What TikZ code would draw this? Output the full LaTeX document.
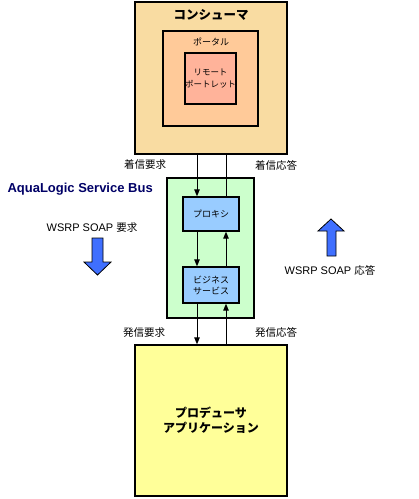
\documentclass[tikz,border=0pt]{standalone}
\usepackage{fontspec}
\setmainfont{Liberation Sans}
\newfontfamily\jp{Noto Sans CJK JP}
\usetikzlibrary{arrows.meta, positioning, calc}
\definecolor{conFill}{HTML}{F9DCA2}
\definecolor{portalFill}{HTML}{FFCA99}
\definecolor{portletFill}{HTML}{FFB39A}
\definecolor{busFill}{HTML}{CCFFCC}
\definecolor{proxyFill}{HTML}{99CCFF}
\definecolor{prodFill}{HTML}{FFFF99}
\definecolor{soapBlue}{HTML}{3F6FFF}
\definecolor{busText}{HTML}{000066}
\tikzset{
  box/.style       = {draw=black, line width=1.3pt, inner sep=0pt},
  flow/.style      = {line width=1pt, black},
  tip/.style       = {-{Triangle[length=7pt, width=5.5pt]}},
  jlbl/.style      = {font=\jp\fontsize{10.5}{12}\selectfont},
  soaplbl/.style   = {font=\fontsize{11}{12}\selectfont},
  slbl/.style      = {font=\jp\fontsize{9}{11}\selectfont, align=center},
  tlbl/.style      = {font=\jp\bfseries\fontsize{12.5}{15}\selectfont, align=center},
  soaparrow/.style = {fill=soapBlue, draw=black, line width=0.8pt},
}

\begin{document}
\begin{tikzpicture}[x=1pt,y=-1pt]
  \useasboundingbox (0,0) rectangle (419,499);
  % consumer side
  \node[box, fill=conFill, minimum width=152pt, minimum height=152pt] (consumer) at (211,78) {};
  \node[tlbl, anchor=center] (contitle) at (211,15) {コンシューマ};
  \node[box, fill=portalFill, minimum width=95pt, minimum height=95pt] (portal) at (210.5,78.5) {};
  \node[slbl] (portaltitle) at (211,42) {ポータル};
  \node[box, fill=portletFill, minimum width=51pt, minimum height=51pt, slbl, font=\jp\fontsize{8.5}{11.5}\selectfont] (portlet) at (210.5,78.5) {リモート\\ポートレット};
  % service bus
  \node[box, fill=busFill, minimum width=87pt, minimum height=140pt] (bus) at (210.5,248) {};
  \node[font=\bfseries\fontsize{13}{15}\selectfont, text=busText, anchor=west] (bustitle) at (4,189) {AquaLogic Service Bus};
  \node[box, fill=proxyFill, minimum width=56pt, minimum height=34pt, slbl] (proxy) at (211,214) {プロキシ};
  \node[box, fill=proxyFill, minimum width=56pt, minimum height=36pt, slbl] (business) at (211,285) {ビジネス\\サービス};
  % producer side
  \node[box, fill=prodFill, minimum width=152pt, minimum height=151pt, tlbl, font=\jp\bfseries\fontsize{12}{15}\selectfont] (producer) at (211,420.5) {プロデューサ\\アプリケーション};
  % request / response lines
  \coordinate (reqx) at (197,0);
  \coordinate (resx) at (226,0);
  \draw[flow, tip] (consumer.south -| reqx) -- (proxy.north -| reqx);
  \draw[flow, tip] (proxy.south -| reqx) -- (business.north -| reqx);
  \draw[flow, tip] (business.south -| reqx) -- (producer.north -| reqx);
  \draw[flow] (proxy.north -| resx) -- (consumer.south -| resx);
  \draw[flow, tip] (business.north -| resx) -- (proxy.south -| resx);
  \draw[flow, tip] (producer.north -| resx) -- (business.south -| resx);
  \node[jlbl] (inreq) at (145,165) {着信要求};
  \node[jlbl] (inres) at (276,165) {着信応答};
  \node[jlbl] (outreq) at (144,333) {発信要求};
  \node[jlbl] (outres) at (276,332) {発信応答};
  % soap arrows
  \node[soaplbl] (soapreq) at (92,228) {WSRP SOAP {\jp\fontsize{10.5}{12}\selectfont 要求}};
  \filldraw[soaparrow] (92,238) -- (103,238) -- (103,262) -- (111,262) -- (97.5,275)
    -- (84,262) -- (92,262) -- cycle;
  \node[soaplbl] (soapres) at (330,270) {WSRP SOAP {\jp\fontsize{10.5}{12}\selectfont 応答}};
  \filldraw[soaparrow] (327,256) -- (336,256) -- (336,231) -- (344,231) -- (331,219)
    -- (318,231) -- (327,231) -- cycle;
\end{tikzpicture}
\end{document}
